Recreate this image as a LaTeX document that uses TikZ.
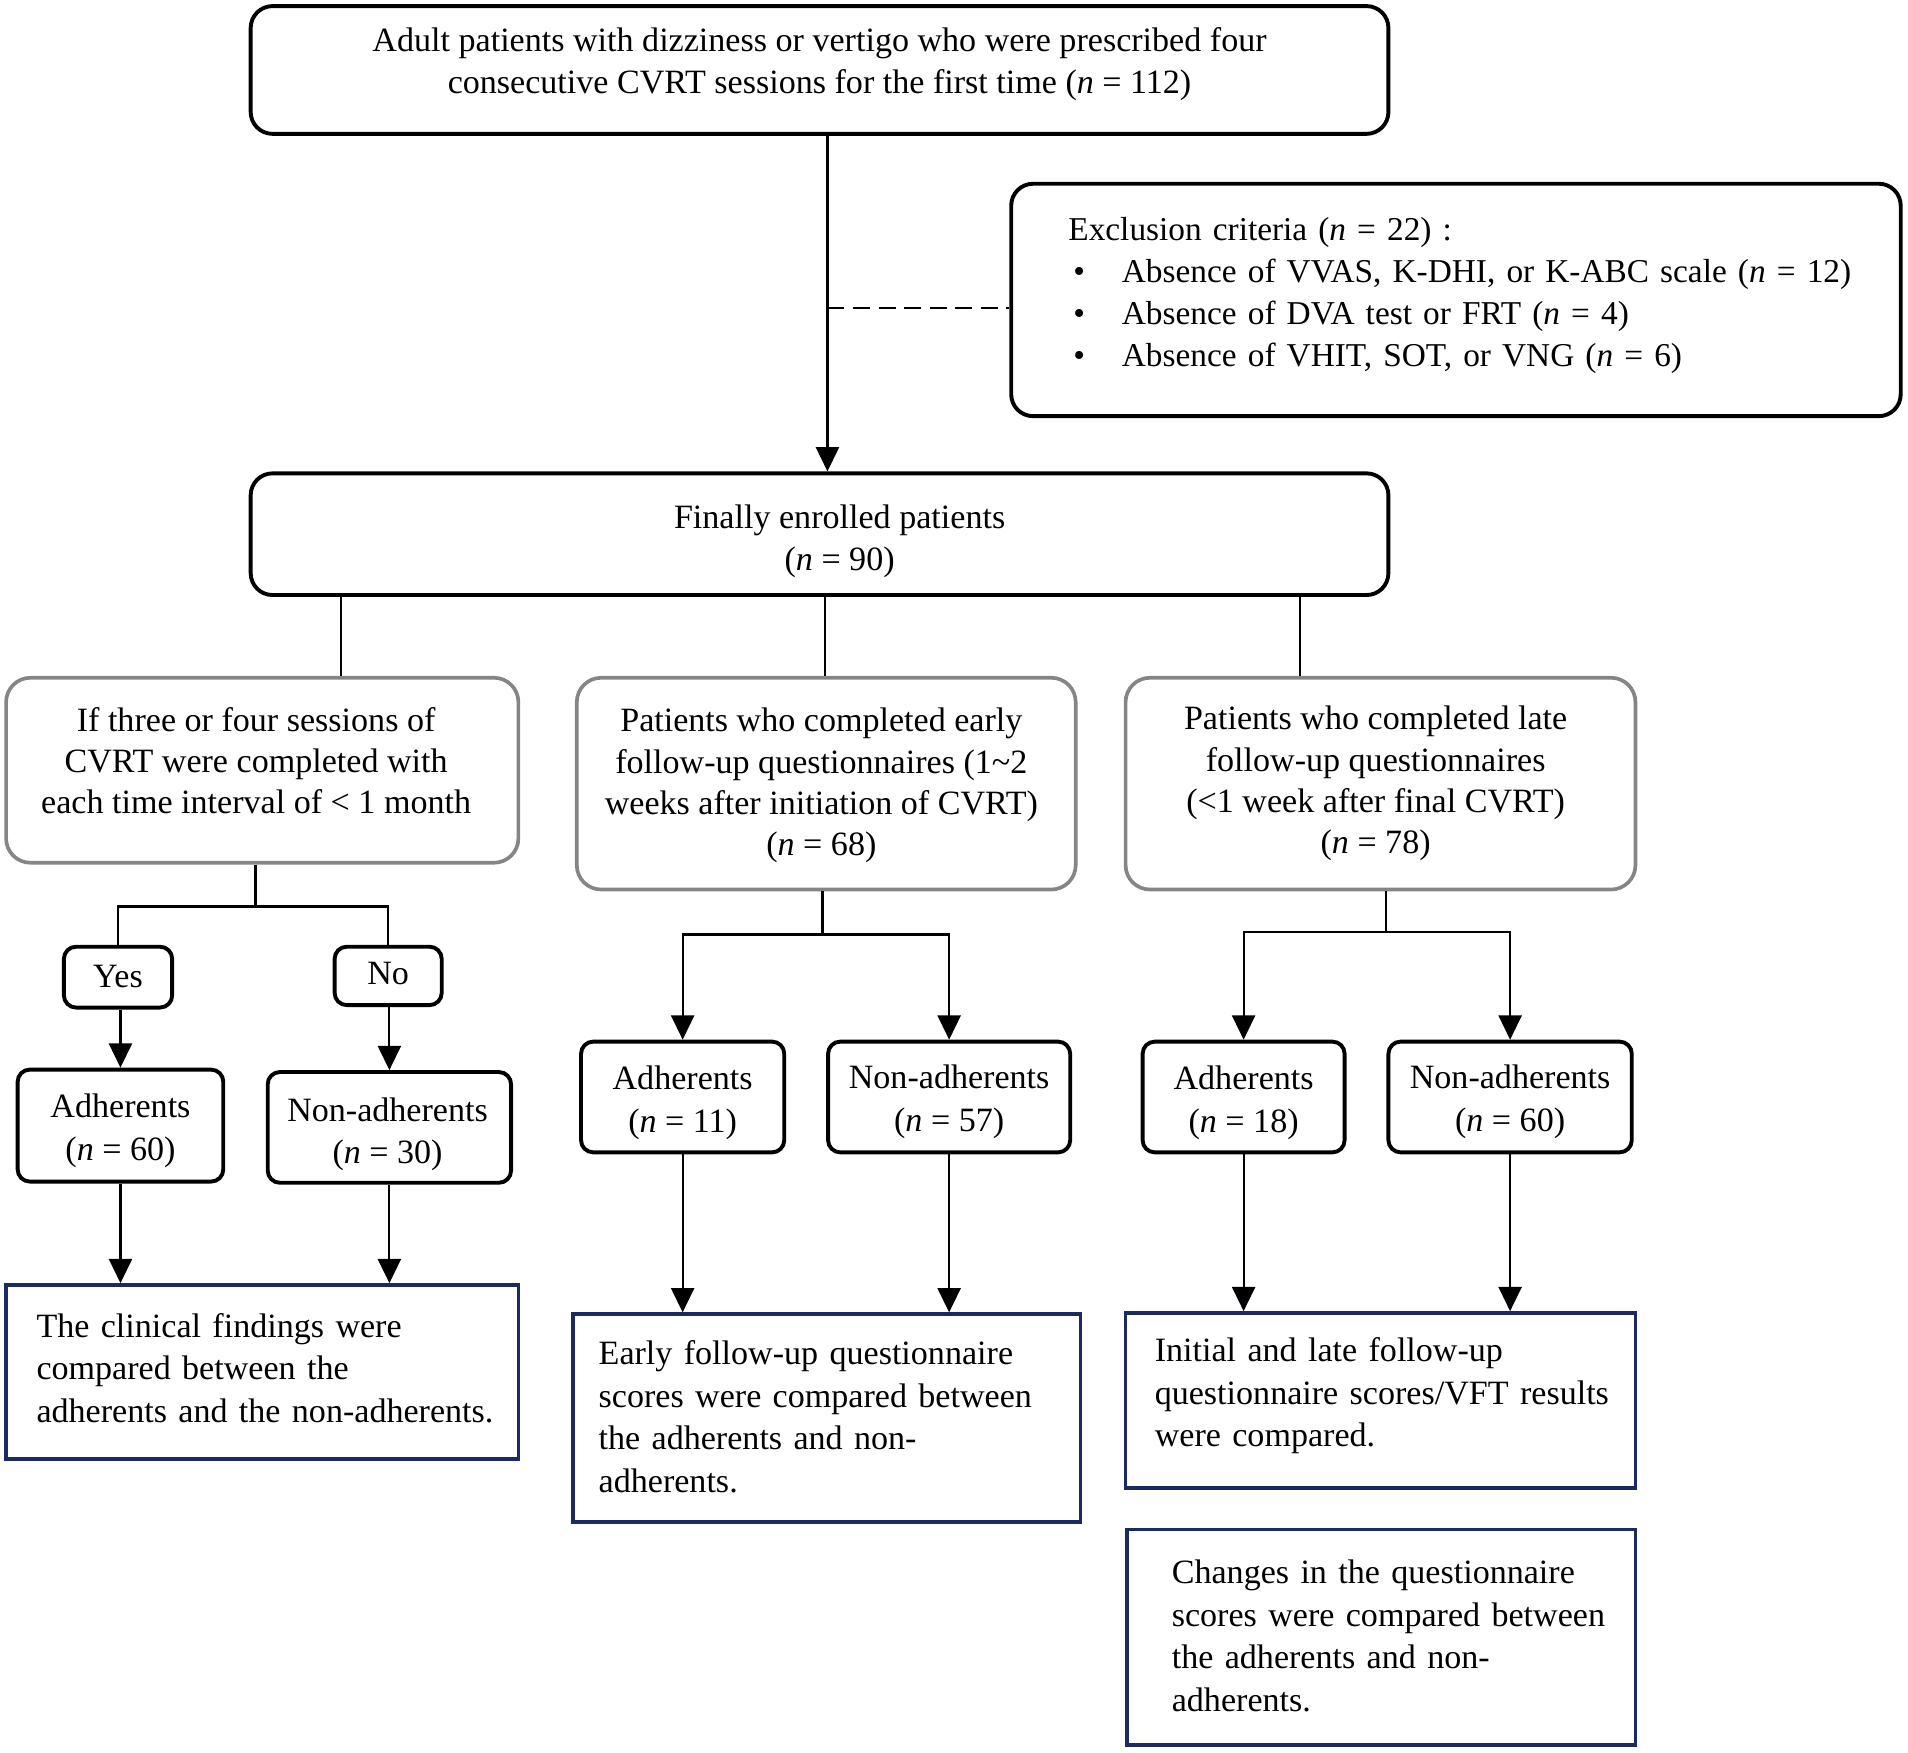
\documentclass[tikz,border=0pt]{standalone}
\usepackage{fontspec}
\setmainfont{Liberation Serif}
\usetikzlibrary{arrows.meta}
\definecolor{navy}{HTML}{1C2A62}
\definecolor{boxgray}{HTML}{858585}
% #1 = horizontal shift, #2 = vertical raise, #3 = column type, #4 = lines
\newcommand{\tb}[4]{\hspace*{#1}\raisebox{#2}[\height][\depth]{\begin{tabular}{@{}#3@{}}#4\end{tabular}}\hspace*{-#1}}
\newcommand{\bul}{\makebox[44pt][l]{\hspace{4pt}\textbullet}}
\begin{document}
\begin{tikzpicture}[x=1pt,y=-1pt,
  txt/.style={font=\fontsize{28}{35}\selectfont},
  blk/.style={draw=black, line width=3.2pt, rounded corners=18pt, txt, inner sep=0pt},
  sblk/.style={blk, rounded corners=10pt},
  gry/.style={draw=boxgray, line width=3pt, rounded corners=20pt, inner sep=0pt, font=\fontsize{28}{34}\selectfont},
  blu/.style={draw=navy, line width=3pt, txt, align=left, inner ysep=0pt},
  conn/.style={line width=1.8pt},
  arr/.style={conn, -{Triangle[length=20pt,width=19pt]}},
]
\useasboundingbox (0,0) rectangle (1568,1440);

% top level
\node[blk, minimum width=935pt, minimum height=105pt] (top) at (673.5,57.5)
  {\tb{0pt}{5pt}{c}{Adult patients with dizziness or vertigo who were prescribed four\\consecutive CVRT sessions for the first time (\textit{n} = 112)}};
\node[blk, minimum width=731pt, minimum height=191pt, text width=637pt, inner xsep=47pt, align=left,
      font=\fontsize{27.4}{34.5}\selectfont] (excl) at (1196.5,246.5)
  {\tb{0pt}{4pt}{l}{Exclusion criteria (\textit{n} = 22) :\\
   \bul Absence of VVAS, K-DHI, or K-ABC scale (\textit{n} = 12)\\
   \bul Absence of DVA test or FRT (\textit{n} = 4)\\
   \bul Absence of VHIT, SOT, or VNG (\textit{n} = 6)}};
\node[blk, minimum width=935pt, minimum height=100pt] (fin) at (673.5,439)
  {\tb{16.5pt}{-5.5pt}{c}{Finally enrolled patients\\(\textit{n} = 90)}};

\coordinate (c1) at (680,253);
\draw[arr] (top.south -| c1) -- (fin.north -| c1);
\draw[conn, dash pattern=on 14pt off 7pt] (c1) -- (excl.west |- c1);

% second level
\node[gry, minimum width=421pt, minimum height=152pt] (g1) at (215.5,633)
  {\tb{-5pt}{5pt}{c}{If three or four sessions of\\CVRT were completed with\\each time interval of {<} 1 month}};
\node[gry, minimum width=410pt, minimum height=174pt] (g2) at (679,644)
  {\tb{-4pt}{-1.5pt}{c}{Patients who completed early\\follow-up questionnaires (1\textasciitilde2\\weeks after initiation of CVRT)\\(\textit{n} = 68)}};
\node[gry, minimum width=419pt, minimum height=174pt] (g3) at (1134.5,644)
  {\tb{-4pt}{0pt}{c}{Patients who completed late\\follow-up questionnaires\\({<}1 week after final CVRT)\\(\textit{n} = 78)}};

\coordinate (b1) at (280,0);
\coordinate (b2) at (678,0);
\coordinate (b3) at (1068,0);
\draw[conn] (fin.south -| b1) -- (g1.north -| b1);
\draw[conn] (fin.south -| b2) -- (g2.north -| b2);
\draw[conn] (fin.south -| b3) -- (g3.north -| b3);

% left branch
\node[sblk, minimum width=89pt, minimum height=50pt] (yes) at (97,803) {\tb{0pt}{-1.5pt}{c}{Yes}};
\node[sblk, minimum width=88pt, minimum height=48pt] (no) at (319,802) {\tb{0pt}{0pt}{c}{No}};
\coordinate (j1) at (210,745);
\draw[conn] (g1.south -| j1) -- (j1);
\draw[conn] (yes.north) |- (j1) -| (no.north);

\node[sblk, minimum width=169pt, minimum height=92pt] (adh1) at (99,925) {\tb{0pt}{-4pt}{c}{Adherents\\(\textit{n} = 60)}};
\node[sblk, minimum width=200pt, minimum height=91pt] (non1) at (320,926.5) {\tb{-1.5pt}{-5.5pt}{c}{Non-adherents\\(\textit{n} = 30)}};
\draw[arr] (yes.south -| adh1) -- (adh1.north);
\draw[arr] (no.south -| non1) -- (non1.north);

\node[blu, minimum width=421pt, minimum height=143pt, text width=371pt, inner xsep=25pt] (r1) at (215.5,1127.5)
  {\tb{0pt}{0.5pt}{l}{The clinical findings were\\compared between the\\adherents and the non-adherents.}};
\draw[arr] (adh1.south) -- (adh1.south |- r1.north);
\draw[arr] (non1.south) -- (non1.south |- r1.north);

% middle branch
\node[sblk, minimum width=167pt, minimum height=91pt] (adh2) at (561,901.5) {\tb{0pt}{-4.5pt}{c}{Adherents\\(\textit{n} = 11)}};
\node[sblk, minimum width=199pt, minimum height=91pt] (non2) at (780,901.5) {\tb{0pt}{-3.5pt}{c}{Non-adherents\\(\textit{n} = 57)}};
\coordinate (j2) at (676,768);
\draw[conn] (g2.south -| j2) -- (j2);
\draw[arr] (j2) -| (adh2.north);
\draw[arr] (j2) -| (non2.north);

\node[blu, minimum width=417pt, minimum height=171pt, text width=375pt, inner xsep=21pt] (r2) at (679.5,1165.5)
  {\tb{0pt}{-1.5pt}{l}{Early follow-up questionnaire\\scores were compared between\\the adherents and non-\\adherents.}};
\draw[arr] (adh2.south) -- (adh2.south |- r2.north);
\draw[arr] (non2.south) -- (non2.south |- r2.north);

% right branch
\node[sblk, minimum width=166pt, minimum height=91pt] (adh3) at (1022,901.5) {\tb{0pt}{-4.5pt}{c}{Adherents\\(\textit{n} = 18)}};
\node[sblk, minimum width=200pt, minimum height=91pt] (non3) at (1241,901.5) {\tb{0pt}{-3.5pt}{c}{Non-adherents\\(\textit{n} = 60)}};
\coordinate (j3) at (1139,766);
\draw[conn] (g3.south -| j3) -- (j3);
\draw[arr] (j3) -| (adh3.north);
\draw[arr] (j3) -| (non3.north);

\node[blu, minimum width=419pt, minimum height=144pt, text width=371pt, inner xsep=24pt] (r3) at (1134.5,1151)
  {\tb{0pt}{4pt}{l}{Initial and late follow-up\\questionnaire scores/VFT results\\were compared.}};
\draw[arr] (adh3.south) -- (adh3.south |- r3.north);
\draw[arr] (non3.south) -- (non3.south |- r3.north);

\node[blu, minimum width=418pt, minimum height=177pt, text width=344pt, inner xsep=37pt] (r4) at (1135,1345.5)
  {\tb{0pt}{-1.5pt}{l}{Changes in the questionnaire\\scores were compared between\\the adherents and non-\\adherents.}};
\end{tikzpicture}
\end{document}
